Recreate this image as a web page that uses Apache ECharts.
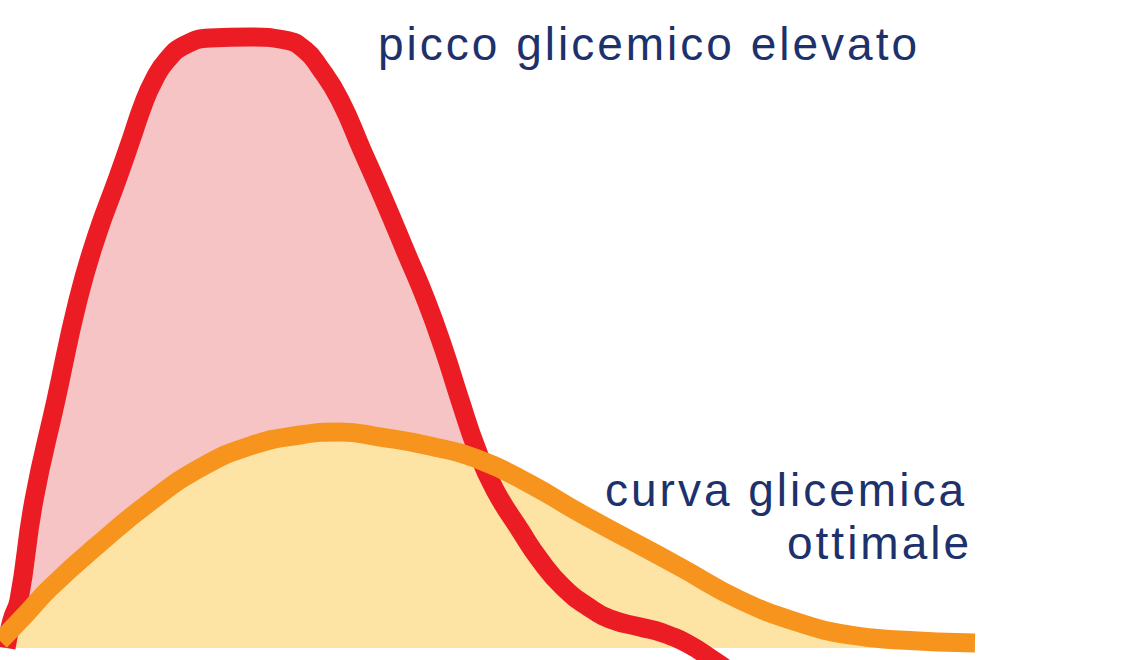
<!DOCTYPE html>
<html>
<head>
<meta charset="utf-8">
<title>picco glicemico</title>
<script src="https://cdn.jsdelivr.net/npm/echarts@6/dist/echarts.min.js"></script>
<style>
	html, body { margin: 0; padding: 0; background: #fff; }
	#main { width: 1134px; height: 660px; letter-spacing: 3px; }
</style>
</head>
<body>
<div id="main"></div>
<script>
// tempo (x) e livello glicemico (y), unità relative
var redTime  = [0.6, 1.2, 1.9, 3.4, 5.6, 7.8, 9.7, 11.7, 13.1, 14.3, 15.4, 16.7, 18.5, 21.0, 25.0, 28.5, 30.5, 32.0, 34.0, 36.2, 38.4, 40.5, 42.6, 44.4, 46.0, 47.7, 49.5, 52.0, 54.0, 56.3, 59.0, 61.3, 64.0, 66.3, 69.0, 71.3, 73.5];
var redLevel = [0, 2.8, 4.8, 14.8, 24.8, 34.8, 41.3, 46.8, 50.8, 54.3, 56.8, 58.8, 60.3, 61.0, 61.1, 60.8, 59.8, 58.0, 54.8, 49.8, 44.8, 39.8, 34.8, 29.8, 24.8, 19.8, 15.8, 11.8, 8.8, 6.1, 4.0, 2.8, 2.1, 1.5, 0.3, -1.2, -2.7];

var orangeTime  = [0, 2.5, 5.0, 10.0, 15.0, 20.0, 25.0, 30.0, 34.0, 38.0, 43.0, 48.0, 53.0, 58.0, 63.0, 68.0, 74.0, 80.0, 85.0, 90.0, 97.5];
var orangeLevel = [0.7, 3.3, 6.0, 10.5, 14.6, 18.0, 20.2, 21.3, 21.6, 21.1, 20.2, 18.8, 16.4, 13.5, 10.8, 8.1, 4.8, 2.5, 1.3, 0.8, 0.5];

var labelHigh = 'picco glicemico elevato';
var labelOptimal = ['curva glicemica', 'ottimale'];

function pairs(xs, ys) {
	var out = [];
	for (var i = 0; i < xs.length; i++) out.push([xs[i], ys[i]]);
	return out;
}

var redData = pairs(redTime, redLevel);
var orangeData = pairs(orangeTime, orangeLevel);

var myChart = echarts.init(document.getElementById('main'), null, { renderer: 'svg' });

var textColor = '#1d316c';
var textFont = '46px "Liberation Sans", Arial, sans-serif';

option = {
	animation: false,
	backgroundColor: '#ffffff',
	// la linea di base (livello 0) sta 12px sopra il bordo
	grid: { left: 0, right: 0, top: 0, bottom: 12 },
	xAxis: { type: 'value', min: 0, max: 113.4, show: false },
	yAxis: { type: 'value', min: 0, max: 64.8, show: false },
	series: [
		// aree prima (tagliate alla base), poi le linee sopra
		{
			type: 'line', data: redData, smooth: 0.5, showSymbol: false,
			lineStyle: { width: 0 },
			areaStyle: { color: '#f6c4c5', opacity: 1 },
			z: 1
		},
		{
			type: 'line', data: orangeData, smooth: 0.5, showSymbol: false,
			lineStyle: { width: 0 },
			areaStyle: { color: '#fde4a4', opacity: 1 },
			z: 2
		},
		{
			type: 'line', data: redData, smooth: 0.5, showSymbol: false,
			clip: false,
			lineStyle: { width: 19, color: '#ec1c24' },
			z: 3
		},
		{
			type: 'line', data: orangeData, smooth: 0.5, showSymbol: false,
			clip: false,
			lineStyle: { width: 19, color: '#f7941e' },
			z: 4
		}
	],
	graphic: [
		{
			type: 'text', left: 378, top: 21,
			style: { text: labelHigh, fill: textColor, font: textFont }
		},
		{
			type: 'text', left: 605, top: 467,
			style: { text: labelOptimal[0], fill: textColor, font: textFont }
		},
		{
			type: 'text', left: 787, top: 520,
			style: { text: labelOptimal[1], fill: textColor, font: textFont }
		}
	]
};

myChart.setOption(option);
</script>
</body>
</html>
